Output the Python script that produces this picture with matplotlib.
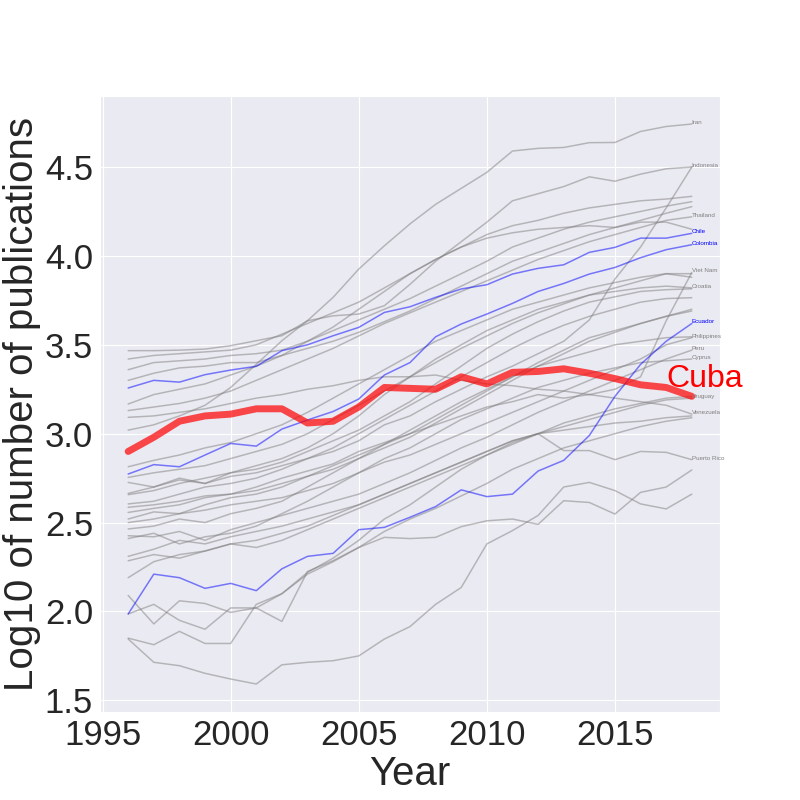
import matplotlib
matplotlib.use("Agg")
import matplotlib.pyplot as plt
import seaborn as sns

sns.set_style("darkgrid")
plt.rcParams['font.family'] = ['Liberation Sans', 'DejaVu Sans']

years = list(range(1996, 2019))

# highlighted country
cuba = [2.90, 2.98, 3.07, 3.10, 3.11, 3.14, 3.14, 3.06, 3.07, 3.15, 3.26, 3.255,
        3.25, 3.32, 3.28, 3.345, 3.35, 3.365, 3.34, 3.31, 3.275, 3.26, 3.21]

# blue (labelled in blue)
chile = [3.257, 3.30, 3.29, 3.332, 3.358, 3.379, 3.467, 3.50, 3.551, 3.598, 3.682, 3.714,
         3.767, 3.814, 3.838, 3.898, 3.93, 3.95, 4.02, 4.048, 4.10, 4.10, 4.127]
colombia = [2.773, 2.826, 2.814, 2.88, 2.945, 2.93, 3.026, 3.077, 3.125, 3.195, 3.33, 3.40,
            3.545, 3.617, 3.673, 3.733, 3.80, 3.845, 3.898, 3.935, 3.99, 4.035, 4.063]
ecuador = [1.986, 2.21, 2.19, 2.13, 2.158, 2.117, 2.24, 2.31, 2.327, 2.46, 2.473, 2.53,
           2.59, 2.684, 2.646, 2.66, 2.79, 2.85, 2.99, 3.21, 3.39, 3.52, 3.62]

# grey, labelled
iran = [3.02, 3.05, 3.10, 3.16, 3.26, 3.39, 3.523, 3.636, 3.767, 3.926, 4.057, 4.18,
        4.29, 4.38, 4.47, 4.59, 4.605, 4.61, 4.637, 4.638, 4.70, 4.728, 4.742]
indonesia = [2.726, 2.70, 2.75, 2.72, 2.76, 2.78, 2.82, 2.86, 2.90, 2.96, 3.05, 3.10,
             3.18, 3.25, 3.32, 3.38, 3.45, 3.52, 3.64, 3.87, 4.05, 4.27, 4.50]
thailand = [3.13, 3.15, 3.17, 3.20, 3.24, 3.30, 3.36, 3.42, 3.48, 3.55, 3.62, 3.68,
            3.74, 3.80, 3.86, 3.92, 3.98, 4.03, 4.08, 4.12, 4.16, 4.20, 4.22]
viet_nam = [2.557, 2.58, 2.60, 2.64, 2.66, 2.70, 2.75, 2.79, 2.83, 2.90, 2.95, 3.00,
            3.05, 3.10, 3.15, 3.18, 3.22, 3.20, 3.22, 3.25, 3.32, 3.635, 3.907]
croatia = [2.664, 2.70, 2.74, 2.72, 2.78, 2.82, 2.86, 2.92, 3.00, 3.10, 3.22, 3.32,
           3.42, 3.50, 3.58, 3.64, 3.70, 3.74, 3.78, 3.80, 3.82, 3.83, 3.82]
philippines = [2.50, 2.52, 2.55, 2.57, 2.60, 2.62, 2.64, 2.68, 2.72, 2.78, 2.84, 2.88,
               2.94, 3.00, 3.06, 3.12, 3.18, 3.24, 3.30, 3.36, 3.42, 3.50, 3.54]
peru = [2.426, 2.42, 2.45, 2.40, 2.46, 2.50, 2.54, 2.58, 2.62, 2.66, 2.72, 2.78,
        2.85, 2.92, 2.98, 3.05, 3.12, 3.18, 3.24, 3.30, 3.36, 3.42, 3.47]
cyprus = [2.41, 2.44, 2.38, 2.42, 2.44, 2.48, 2.55, 2.62, 2.70, 2.78, 2.86, 2.92,
          3.00, 3.08, 3.14, 3.20, 3.26, 3.30, 3.34, 3.37, 3.40, 3.41, 3.42]
uruguay = [2.31, 2.35, 2.40, 2.38, 2.42, 2.45, 2.48, 2.52, 2.56, 2.60, 2.66, 2.72,
           2.78, 2.84, 2.90, 2.96, 3.00, 3.04, 3.08, 3.12, 3.16, 3.19, 3.20]
venezuela = [3.092, 3.10, 3.12, 3.14, 3.17, 3.20, 3.22, 3.25, 3.27, 3.30, 3.32, 3.32,
             3.33, 3.30, 3.28, 3.27, 3.25, 3.24, 3.22, 3.20, 3.18, 3.16, 3.11]
puerto_rico = [1.986, 2.04, 1.95, 1.90, 2.02, 2.02, 2.10, 2.22, 2.30, 2.40, 2.52, 2.60,
               2.70, 2.80, 2.88, 2.95, 3.00, 2.905, 2.905, 2.854, 2.90, 2.895, 2.854]

# grey, unlabelled
line_a = [3.467, 3.467, 3.47, 3.476, 3.495, 3.523, 3.551, 3.635, 3.663, 3.673, 3.72, 3.84,
          3.97, 4.08, 4.19, 4.31, 4.35, 4.39, 4.445, 4.42, 4.46, 4.49, 4.50]
line_b = [3.42, 3.44, 3.45, 3.46, 3.47, 3.50, 3.56, 3.62, 3.68, 3.74, 3.82, 3.90,
          3.98, 4.05, 4.12, 4.17, 4.20, 4.24, 4.27, 4.29, 4.31, 4.32, 4.335]
line_c = [3.36, 3.40, 3.41, 3.42, 3.44, 3.45, 3.47, 3.52, 3.58, 3.64, 3.70, 3.76,
          3.83, 3.90, 3.97, 4.05, 4.10, 4.15, 4.19, 4.22, 4.25, 4.28, 4.305]
line_d = [3.30, 3.34, 3.37, 3.38, 3.40, 3.40, 3.44, 3.48, 3.52, 3.57, 3.63, 3.69,
          3.76, 3.83, 3.90, 3.97, 4.02, 4.07, 4.12, 4.16, 4.20, 4.24, 4.277]
line_e = [3.167, 3.22, 3.25, 3.28, 3.33, 3.38, 3.44, 3.52, 3.60, 3.70, 3.80, 3.90,
          3.98, 4.05, 4.10, 4.13, 4.15, 4.16, 4.17, 4.16, 4.19, 4.19, 4.15]
line_f = [2.814, 2.85, 2.88, 2.92, 2.95, 3.00, 3.05, 3.12, 3.20, 3.28, 3.36, 3.44,
          3.52, 3.58, 3.64, 3.70, 3.74, 3.78, 3.82, 3.85, 3.88, 3.90, 3.90]
line_g = [2.754, 2.78, 2.80, 2.82, 2.86, 2.90, 2.94, 3.00, 3.08, 3.16, 3.24, 3.32,
          3.40, 3.48, 3.55, 3.62, 3.68, 3.73, 3.78, 3.82, 3.86, 3.90, 3.88]
line_h = [2.657, 2.68, 2.72, 2.75, 2.78, 2.80, 2.84, 2.90, 2.96, 3.02, 3.10, 3.18,
          3.28, 3.38, 3.48, 3.56, 3.63, 3.69, 3.74, 3.77, 3.80, 3.81, 3.815]
line_i = [2.605, 2.62, 2.66, 2.70, 2.72, 2.75, 2.80, 2.86, 2.92, 3.00, 3.08, 3.16,
          3.24, 3.32, 3.40, 3.48, 3.55, 3.61, 3.66, 3.70, 3.74, 3.76, 3.765]
line_j = [2.586, 2.60, 2.62, 2.65, 2.66, 2.68, 2.72, 2.76, 2.80, 2.86, 2.92, 2.98,
          3.06, 3.14, 3.22, 3.30, 3.38, 3.45, 3.52, 3.57, 3.62, 3.66, 3.70]
line_k = [2.52, 2.56, 2.55, 2.60, 2.64, 2.66, 2.70, 2.76, 2.82, 2.88, 2.94, 3.00,
          3.08, 3.16, 3.24, 3.32, 3.40, 3.47, 3.54, 3.58, 3.62, 3.66, 3.69]
line_l = [2.464, 2.48, 2.52, 2.50, 2.55, 2.58, 2.62, 2.70, 2.78, 2.86, 2.94, 3.02,
          3.10, 3.18, 3.25, 3.32, 3.38, 3.42, 3.46, 3.50, 3.52, 3.54, 3.545]
line_m = [2.285, 2.32, 2.30, 2.34, 2.38, 2.36, 2.40, 2.46, 2.52, 2.58, 2.64, 2.70,
          2.76, 2.82, 2.88, 2.94, 3.00, 3.06, 3.10, 3.14, 3.17, 3.20, 3.21]
line_n = [2.19, 2.28, 2.32, 2.34, 2.38, 2.40, 2.44, 2.48, 2.54, 2.60, 2.66, 2.72,
          2.78, 2.84, 2.90, 2.96, 3.00, 3.02, 3.04, 3.06, 3.07, 3.09, 3.10]
line_o = [2.09, 1.93, 2.06, 2.045, 1.995, 2.02, 1.944, 2.225, 2.286, 2.36, 2.45, 2.52,
          2.58, 2.65, 2.72, 2.80, 2.86, 2.92, 2.96, 3.00, 3.04, 3.07, 3.09]
line_p = [1.85, 1.813, 1.888, 1.82, 1.82, 2.04, 2.10, 2.21, 2.28, 2.36, 2.417, 2.41,
          2.417, 2.477, 2.51, 2.52, 2.49, 2.623, 2.613, 2.548, 2.67, 2.70, 2.796]
line_q = [1.845, 1.714, 1.695, 1.652, 1.62, 1.592, 1.70, 1.714, 1.723, 1.75, 1.845, 1.915,
          2.04, 2.135, 2.38, 2.455, 2.54, 2.70, 2.726, 2.68, 2.605, 2.577, 2.66]

grey_labelled = {'Iran': iran, 'Indonesia': indonesia, 'Thailand': thailand,
                 'Viet Nam': viet_nam, 'Croatia': croatia, 'Philippines': philippines,
                 'Peru': peru, 'Cyprus': cyprus, 'Uruguay': uruguay,
                 'Venezuela': venezuela, 'Puerto Rico': puerto_rico}
blue_labelled = {'Chile': chile, 'Colombia': colombia, 'Ecuador': ecuador}
grey_unlabelled = [line_a, line_b, line_c, line_d, line_e, line_f, line_g, line_h,
                   line_i, line_j, line_k, line_l, line_m, line_n, line_o, line_p, line_q]

fig, ax = plt.subplots(figsize=(8, 8), dpi=100)

for vals in grey_unlabelled:
    ax.plot(years, vals, color='gray', alpha=0.5, lw=1.1)

for name, vals in grey_labelled.items():
    ax.plot(years, vals, color='gray', alpha=0.5, lw=1.1)
    ax.text(years[-1], vals[-1], name, color='gray', fontsize=4.5)

for name, vals in blue_labelled.items():
    ax.plot(years, vals, color='blue', alpha=0.5, lw=1.1)
    ax.text(years[-1], vals[-1], name, color='blue', fontsize=4.5)

#Cuba on top
ax.plot(years, cuba, color='red', alpha=0.7, lw=5)
ax.text(2017, cuba[-2], 'Cuba', color='red', fontsize=23)

ax.set_xlabel('Year', fontsize=29, labelpad=2)
ax.set_ylabel('Log10 of number of publications', fontsize=29, labelpad=3)
ax.tick_params(labelsize=25, length=0, pad=5)
ax.set_yticks([1.5, 2.0, 2.5, 3.0, 3.5, 4.0, 4.5])

plt.savefig('out.png')
